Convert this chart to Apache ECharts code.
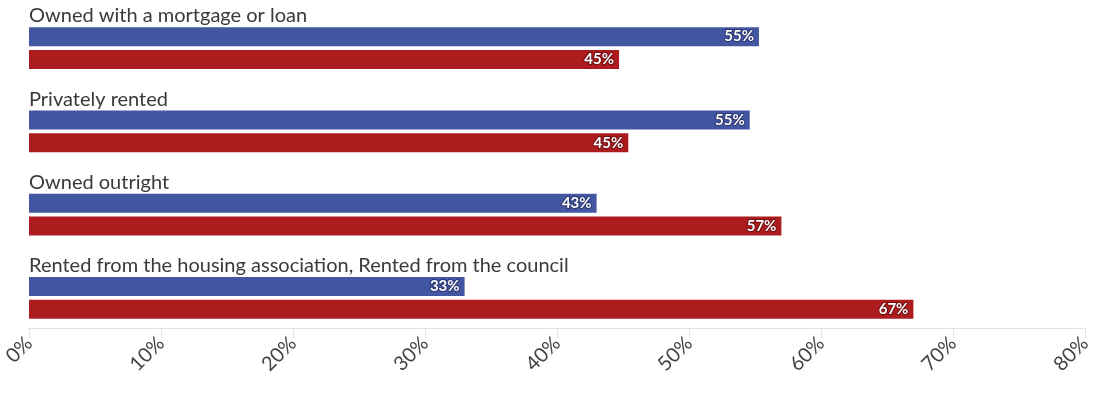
<!DOCTYPE html>
<html>
<head>
<meta charset="utf-8">
<script src="https://cdn.jsdelivr.net/npm/echarts@6/dist/echarts.min.js"></script>
<style>
  html, body { margin: 0; padding: 0; background: #fff; }
  #chart { width: 1100px; height: 401px; }
</style>
</head>
<body>
<div id="chart"></div>
<script>
// Housing tenure split between two groups (percent of each tenure type)
const categories = [
  'Owned with a mortgage or loan',
  'Privately rented',
  'Owned outright',
  'Rented from the housing association, Rented from the council'
];
const blueValues = [55.3, 54.6, 43.0, 33.0];
const redValues  = [44.7, 45.4, 57.0, 67.0];
const tickLabels = ['0%', '10%', '20%', '30%', '40%', '50%', '60%', '70%', '80%'];

const BLUE = '#4356a1';
const RED = '#ac1b1e';
const FONT = 'Lato, "Open Sans", sans-serif';

function valueLabel(borderColor) {
  return {
    show: true,
    position: 'insideRight',
    distance: 5,
    color: '#fff',
    fontFamily: FONT,
    fontWeight: 'bold',
    fontSize: 15,
    textBorderColor: borderColor,
    textBorderWidth: 2,
    formatter: p => Math.round(p.value) + '%'
  };
}

const chart = echarts.init(document.getElementById('chart'), null, { renderer: 'canvas' });
chart.setOption({
  animation: false,
  grid: { left: 29, right: 15, top: -5, bottom: 73, containLabel: false, outerBoundsMode: 'none' },
  xAxis: {
    type: 'value',
    min: 0,
    max: 80,
    interval: 10,
    axisLine: { show: true, lineStyle: { color: '#e4e4e4', width: 1 } },
    axisTick: { show: true, length: 10, lineStyle: { color: '#e4e4e4' } },
    splitLine: { show: false },
    axisLabel: {
      rotate: 45,
      margin: 12,
      color: '#444',
      fontFamily: FONT,
      fontSize: 20,
      formatter: v => tickLabels[Math.round(v / 10)]
    }
  },
  yAxis: {
    type: 'category',
    inverse: true,
    data: categories,
    axisLine: { show: false },
    axisTick: { show: false },
    axisLabel: { show: false },
    splitLine: { show: false }
  },
  series: [
    {
      // spacer row carrying the category heading above each pair of bars
      type: 'bar',
      silent: true,
      barWidth: 19,
      barGap: '20%',
      itemStyle: { color: 'transparent' },
      data: categories.map(() => 0),
      label: {
        show: true,
        position: 'right',
        distance: 0,
        offset: [0, 2],
        color: '#3a3a3a',
        fontFamily: FONT,
        fontSize: 20,
        formatter: p => p.name
      }
    },
    {
      type: 'bar',
      barWidth: 19,
      barGap: '20%',
      itemStyle: { color: BLUE },
      data: blueValues,
      label: valueLabel('#2a3670')
    },
    {
      type: 'bar',
      barWidth: 19,
      barGap: '20%',
      itemStyle: { color: RED },
      data: redValues,
      label: valueLabel('#6e0f12')
    }
  ]
});
</script>
</body>
</html>
